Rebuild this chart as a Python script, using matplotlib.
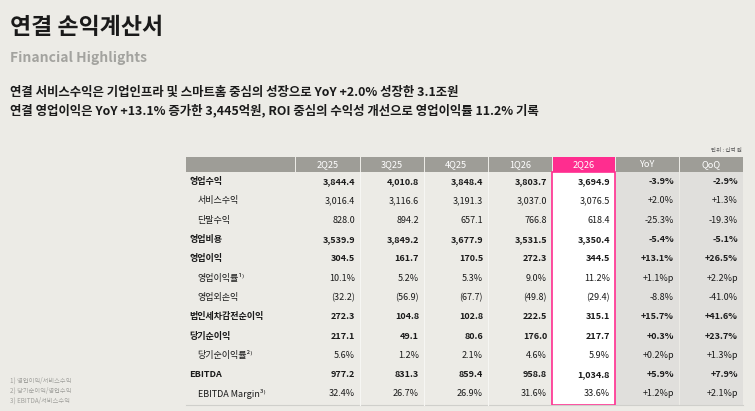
import matplotlib
matplotlib.use("Agg")
import matplotlib.pyplot as plt
from matplotlib.patches import Rectangle

plt.rcParams['font.family'] = ['Noto Sans CJK KR', 'DejaVu Sans']

columns = ["2Q25", "3Q25", "4Q25", "1Q26", "2Q26", "YoY", "QoQ"]
row_labels = ["영업수익", "서비스수익", "단말수익", "영업비용", "영업이익", "영업이익률¹⁾",
              "영업외손익", "법인세차감전순이익", "당기순이익", "당기순이익률²⁾", "EBITDA", "EBITDA Margin³⁾"]
row_bold = [True, False, False, True, True, False, False, True, True, False, True, False]
q2_25 = ["3,844.4", "3,016.4", "828.0", "3,539.9", "304.5", "10.1%", "(32.2)", "272.3", "217.1", "5.6%", "977.2", "32.4%"]
q3_25 = ["4,010.8", "3,116.6", "894.2", "3,849.2", "161.7", "5.2%", "(56.9)", "104.8", "49.1", "1.2%", "831.3", "26.7%"]
q4_25 = ["3,848.4", "3,191.3", "657.1", "3,677.9", "170.5", "5.3%", "(67.7)", "102.8", "80.6", "2.1%", "859.4", "26.9%"]
q1_26 = ["3,803.7", "3,037.0", "766.8", "3,531.5", "272.3", "9.0%", "(49.8)", "222.5", "176.0", "4.6%", "958.8", "31.6%"]
q2_26 = ["3,694.9", "3,076.5", "618.4", "3,350.4", "344.5", "11.2%", "(29.4)", "315.1", "217.7", "5.9%", "1,034.8", "33.6%"]
yoy = ["-3.9%", "+2.0%", "-25.3%", "-5.4%", "+13.1%", "+1.1%p", "-8.8%", "+15.7%", "+0.3%", "+0.2%p", "+5.9%", "+1.2%p"]
qoq = ["-2.9%", "+1.3%", "-19.3%", "-5.1%", "+26.5%", "+2.2%p", "-41.0%", "+41.6%", "+23.7%", "+1.3%p", "+7.9%", "+2.1%p"]
footnotes = ["1) 영업이익/서비스수익", "2) 당기순이익/영업수익", "3) EBITDA/서비스수익"]

W, H = 755, 411
bg = "#ecebe6"
fig = plt.figure(figsize=(W/100, H/100), dpi=100, facecolor=bg)
ax = fig.add_axes([0, 0, 1, 1])
ax.set_xlim(0, W); ax.set_ylim(H, 0); ax.axis('off')

ax.text(10, 28, "연결 손익계산서", fontsize=16.5, fontweight='bold', va='center', color='#1a1a1a')
ax.text(10, 58, "Financial Highlights", fontsize=10, fontweight='bold', va='center', color='#a3a39f')
ax.text(10, 92, "연결 서비스수익은 기업인프라 및 스마트홈 중심의 성장으로 YoY +2.0% 성장한 3.1조원",
        fontsize=8.95, fontweight='bold', va='center', color='#1a1a1a')
ax.text(10, 111, "연결 영업이익은 YoY +13.1% 증가한 3,445억원, ROI 중심의 수익성 개선으로 영업이익률 11.2% 기록",
        fontsize=8.95, fontweight='bold', va='center', color='#1a1a1a')
ax.text(742, 150, "단위 : 십억 원", fontsize=4, ha='right', va='center', color='#555')

edges = [185.5, 295.5, 360, 424, 488, 552, 615, 679, 743]
top, hb = 157, 172
row_h = 19.3
y0 = 172
nrows = len(row_labels)
bottom = y0 + row_h * nrows + 1

for i in range(len(columns)):
    c = '#ff2d8f' if columns[i] == "2Q26" else '#9e9d97'
    ax.add_patch(Rectangle((edges[i+1] + 0.5, top), edges[i+2] - edges[i+1] - 1, hb - top, color=c, lw=0))
    ax.text((edges[i+1] + edges[i+2]) / 2, (top + hb) / 2, columns[i], ha='center', va='center',
            fontsize=6.6, color='white')
ax.add_patch(Rectangle((edges[0], top), edges[1] - edges[0] - 0.5, hb - top, color='#9e9d97', lw=0))
for i in (6, 7):
    ax.add_patch(Rectangle((edges[i] + 0.5, hb), edges[i+1] - edges[i] - 1, bottom - hb, color='#e0dfdc', lw=0))
ax.add_patch(Rectangle((edges[5], hb), edges[6] - edges[5], bottom - hb, facecolor='white',
                       edgecolor='#ff2d8f', lw=1.2))
ax.plot([edges[0], edges[-1]], [bottom, bottom], color='#cfcfcb', lw=0.8)
for x in edges[2:5]:
    ax.plot([x, x], [hb, bottom], color='#f6f6f3', lw=0.8)

data_cols = [q2_25, q3_25, q4_25, q1_26, q2_26, yoy, qoq]
for r in range(nrows):
    y = y0 + row_h * (r + 0.5)
    b = row_bold[r]
    ax.text(edges[0] + (4 if b else 12), y, row_labels[r], ha='left', va='center', fontsize=6.5,
            fontweight='bold' if b else 'normal', color='#1a1a1a')
    for c in range(7):
        ax.text(edges[c+2] - 5, y, data_cols[c][r], ha='right', va='center', fontsize=6.5,
                fontweight='bold' if b else 'normal', color='#1a1a1a')

for i, f in enumerate(footnotes):
    ax.text(10, 381 + i * 10, f, fontsize=4.5, va='center', color='#a0a09c')

fig.savefig("out.png", dpi=100, facecolor=bg)
